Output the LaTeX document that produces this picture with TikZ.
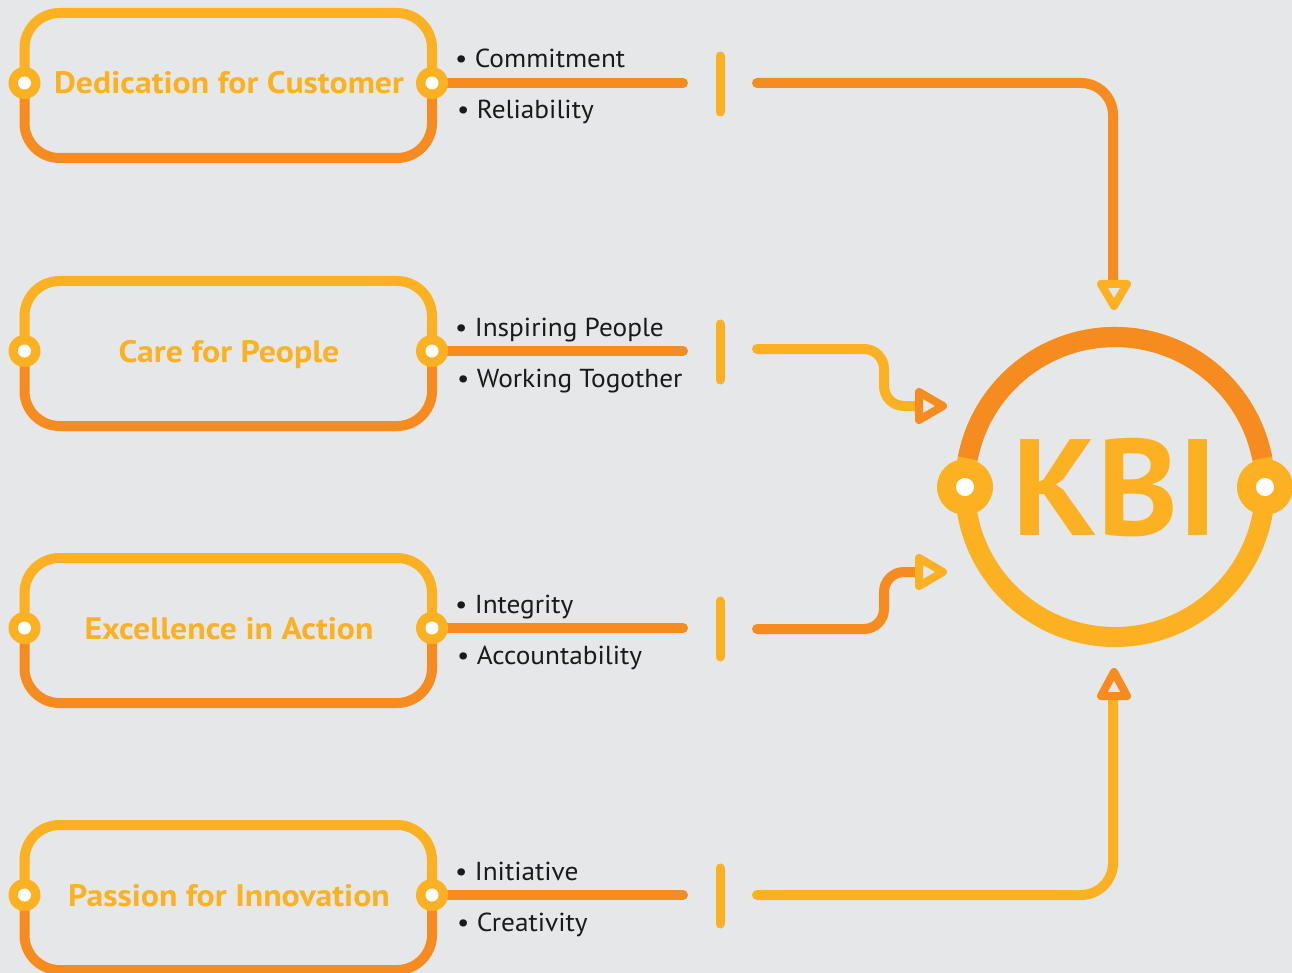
\documentclass[tikz,border=0pt]{standalone}
\usepackage{fontspec}
\setmainfont{PT Sans}
\newfontfamily\lblfont{PT Sans}[FakeStretch=1.09]
\newfontfamily\bulfont{PT Sans}[FakeStretch=1.05]
\usetikzlibrary{calc}
\definecolor{kyellow}{HTML}{FBB121}
\definecolor{korange}{HTML}{F68B20}
\definecolor{kbg}{HTML}{E6E7E8}
\definecolor{ktext}{HTML}{1A1A1A}
\begin{document}
\begin{tikzpicture}[x=1pt,y=-1pt,line cap=round,line join=round,
  yel/.style={draw=kyellow,line width=10pt},
  ora/.style={draw=korange,line width=10pt},
  dot/.style={circle,fill=kyellow,minimum size=32pt,inner sep=0pt},
  hole/.style={circle,fill=white,minimum size=13pt,inner sep=0pt},
  bigdot/.style={circle,fill=kyellow,minimum size=56pt,inner sep=0pt},
  bighole/.style={circle,fill=white,minimum size=18pt,inner sep=0pt},
  vlabel/.style={text=kyellow,font=\lblfont\fontsize{31}{31}\selectfont\bfseries,anchor=base,inner sep=0pt},
  bul/.style={text=ktext,font=\bulfont\fontsize{26}{26}\selectfont,anchor=base west,inner sep=0pt},
  tri/.style={line width=8pt,line join=round,fill=kbg}]
\fill[kbg] (0,0) rectangle (1292,973);
\useasboundingbox (0,0) rectangle (1292,973);

% ---- rows: boxes, bullets, dashes
\foreach \i/\cy/\txt/\ta/\tb in {
  1/83/Dedication for Customer/Commitment/Reliability,
  2/351/Care for People/Inspiring People/Working Togother,
  3/628/Excellence in Action/Integrity/Accountability,
  4/895/Passion for Innovation/Initiative/Creativity}{
  \coordinate (L\i) at (24.5,\cy);
  \coordinate (R\i) at (432,\cy);
  \coordinate (E\i) at (683,\cy);
  \coordinate (Da\i) at (720,\cy-27);
  \coordinate (Db\i) at (720,\cy+29);
  \draw[yel,rounded corners=35pt] (L\i) |- (432,\cy-70) -- (R\i);
  \draw[ora,rounded corners=35pt] (L\i) |- (432,\cy+75) -- (R\i);
  \draw[ora] (R\i) -- (E\i);
  \draw[draw=kyellow,line width=9pt] (Da\i) -- (Db\i);
  \node[dot] (Ld\i) at (L\i) {};
  \node[hole] at (Ld\i) {};
  \node[dot] (Rd\i) at (R\i) {};
  \node[hole] at (Rd\i) {};
  \node[vlabel] (T\i) at (229,\cy+11) {\txt};
  \node[bul] (Ba\i) at (455,\cy-15) {• \ta};
  \node[bul] (Bb\i) at (457,\cy+36) {• \tb};
}

% ---- KBI circle
\coordinate (K) at (1115,487);
\draw[kyellow,line width=20pt] (K) circle[radius=150];
\draw[korange,line width=20pt,line cap=butt] ($(K)+(191:150)$) arc[start angle=191,end angle=349,radius=150];
\node[bigdot] (KL) at (965,487) {};
\node[bighole] at (KL) {};
\node[bigdot] (KR) at (1265,487) {};
\node[bighole] at (KR) {};
\node[text=kyellow,font=\fontsize{137}{137}\selectfont\bfseries,anchor=base,inner sep=0pt] (KBI) at (1115,535) {KBI};

% ---- connectors
\coordinate (S1) at (757,83);
\coordinate (A1) at (1113,284);
\draw[ora,rounded corners=32pt] (S1) -| (A1);
\draw[tri,draw=kyellow] (1101,284) -- (1127,284) -- (1114,306) -- cycle;

\coordinate (S2) at (757,349);
\coordinate (A2) at (919,406);
\draw[yel,rounded corners=20pt] (S2) -| (884,406) -- (A2);
\draw[tri,draw=korange] (919,392) -- (919,420) -- (943,406) -- cycle;

\coordinate (S3) at (757,629);
\coordinate (A3) at (919,572);
\draw[ora,rounded corners=20pt] (S3) -| (884,572) -- (A3);
\draw[tri,draw=kyellow] (919,558) -- (919,586) -- (943,572) -- cycle;

\coordinate (S4) at (757,895);
\coordinate (A4) at (1113,696);
\draw[yel,rounded corners=32pt] (S4) -| (A4);
\draw[tri,draw=korange] (1101,696) -- (1127,696) -- (1114,672) -- cycle;
\end{tikzpicture}
\end{document}
